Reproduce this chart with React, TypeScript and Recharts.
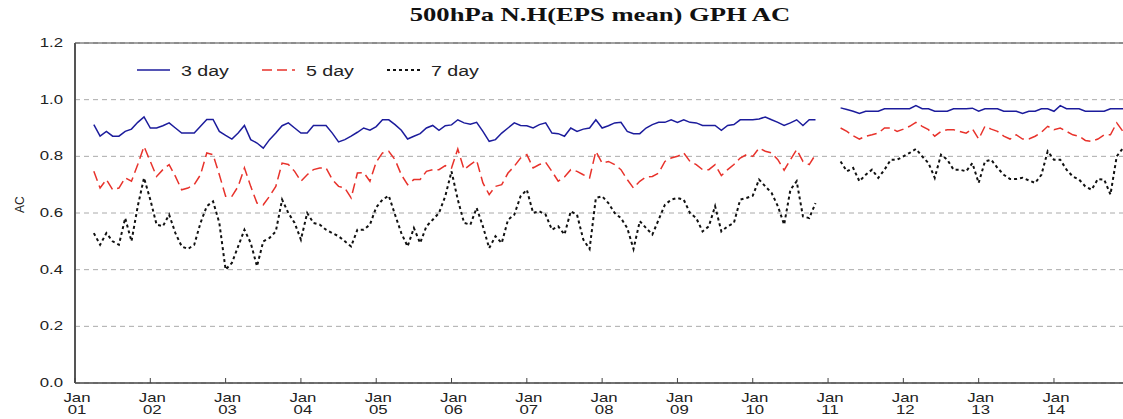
import { LineChart, Line, XAxis, YAxis, CartesianGrid, Legend, ReferenceLine } from 'recharts'

// monthly AC, Jan 2001 .. Dec 2014 (one row per year), null = no data
const day3 = [
  null, null, null, 0.912, 0.871, 0.888, 0.871, 0.871, 0.888, 0.896, 0.92, 0.939,
  0.9, 0.9, 0.908, 0.918, 0.9, 0.882, 0.882, 0.882, 0.906, 0.93, 0.93, 0.888,
  0.874, 0.861, 0.882, 0.909, 0.859, 0.847, 0.829, 0.859, 0.882, 0.908, 0.918, 0.9,
  0.882, 0.882, 0.909, 0.909, 0.909, 0.882, 0.851, 0.859, 0.871, 0.885, 0.9, 0.892,
  0.905, 0.929, 0.929, 0.912, 0.892, 0.861, 0.871, 0.88, 0.9, 0.909, 0.892, 0.908,
  0.911, 0.929, 0.918, 0.913, 0.92, 0.888, 0.853, 0.859, 0.882, 0.9, 0.918, 0.909,
  0.908, 0.9, 0.912, 0.918, 0.882, 0.88, 0.871, 0.9, 0.888, 0.896, 0.9, 0.929,
  0.9, 0.908, 0.918, 0.92, 0.888, 0.88, 0.88, 0.9, 0.912, 0.92, 0.92, 0.929,
  0.92, 0.929, 0.92, 0.918, 0.909, 0.909, 0.909, 0.892, 0.909, 0.912, 0.929, 0.929,
  0.929, 0.932, 0.939, 0.929, 0.92, 0.909, 0.918, 0.929, 0.909, 0.929, 0.929, null,
  null, null, 0.971, 0.965, 0.959, 0.951, 0.959, 0.959, 0.959, 0.968, 0.968, 0.968,
  0.968, 0.968, 0.979, 0.968, 0.968, 0.959, 0.959, 0.959, 0.968, 0.968, 0.968, 0.97,
  0.959, 0.968, 0.968, 0.968, 0.959, 0.959, 0.959, 0.951, 0.959, 0.959, 0.968, 0.968,
  0.959, 0.979, 0.968, 0.968, 0.968, 0.959, 0.959, 0.959, 0.959, 0.968, 0.968, 0.968,
]

const day5 = [
  null, null, null, 0.747, 0.688, 0.718, 0.682, 0.688, 0.724, 0.712, 0.771, 0.835,
  0.782, 0.729, 0.753, 0.771, 0.729, 0.682, 0.688, 0.7, 0.735, 0.812, 0.806, 0.735,
  0.659, 0.659, 0.694, 0.759, 0.694, 0.635, 0.629, 0.659, 0.694, 0.776, 0.771, 0.747,
  0.712, 0.735, 0.753, 0.759, 0.759, 0.718, 0.694, 0.688, 0.653, 0.741, 0.743, 0.712,
  0.78, 0.812, 0.818, 0.788, 0.735, 0.7, 0.718, 0.718, 0.747, 0.753, 0.753, 0.767,
  0.759, 0.826, 0.753, 0.771, 0.786, 0.706, 0.665, 0.694, 0.7, 0.741, 0.765, 0.794,
  0.806, 0.759, 0.771, 0.779, 0.747, 0.712, 0.727, 0.753, 0.747, 0.735, 0.724, 0.818,
  0.776, 0.782, 0.771, 0.753, 0.718, 0.688, 0.712, 0.727, 0.729, 0.741, 0.782, 0.794,
  0.8, 0.812, 0.782, 0.771, 0.753, 0.753, 0.771, 0.732, 0.753, 0.771, 0.794, 0.806,
  0.8, 0.829, 0.818, 0.812, 0.788, 0.751, 0.788, 0.824, 0.782, 0.771, 0.806, null,
  null, null, 0.9, 0.888, 0.873, 0.861, 0.871, 0.876, 0.882, 0.9, 0.9, 0.888,
  0.896, 0.906, 0.92, 0.906, 0.894, 0.871, 0.888, 0.894, 0.894, 0.888, 0.882, 0.897,
  0.861, 0.906, 0.896, 0.888, 0.871, 0.861, 0.876, 0.861, 0.861, 0.871, 0.885, 0.906,
  0.894, 0.9, 0.888, 0.876, 0.871, 0.856, 0.853, 0.861, 0.876, 0.876, 0.918, 0.888,
]

const day7 = [
  null, null, null, 0.529, 0.488, 0.529, 0.5, 0.488, 0.582, 0.5, 0.624, 0.724,
  0.647, 0.559, 0.553, 0.594, 0.529, 0.482, 0.473, 0.488, 0.565, 0.624, 0.641, 0.565,
  0.4, 0.424, 0.482, 0.541, 0.494, 0.412, 0.5, 0.512, 0.535, 0.647, 0.6, 0.565,
  0.506, 0.6, 0.565, 0.559, 0.541, 0.529, 0.518, 0.5, 0.482, 0.541, 0.541, 0.559,
  0.62, 0.647, 0.661, 0.594, 0.529, 0.482, 0.547, 0.494, 0.553, 0.576, 0.6, 0.659,
  0.747, 0.647, 0.565, 0.559, 0.618, 0.553, 0.476, 0.518, 0.494, 0.576, 0.594, 0.659,
  0.682, 0.6, 0.606, 0.594, 0.541, 0.553, 0.524, 0.606, 0.594, 0.506, 0.473, 0.653,
  0.659, 0.635, 0.6, 0.582, 0.547, 0.473, 0.571, 0.547, 0.524, 0.576, 0.629, 0.647,
  0.653, 0.647, 0.6, 0.582, 0.535, 0.553, 0.624, 0.535, 0.553, 0.565, 0.647, 0.653,
  0.661, 0.718, 0.694, 0.671, 0.624, 0.559, 0.682, 0.712, 0.588, 0.582, 0.635, null,
  null, null, 0.782, 0.747, 0.759, 0.712, 0.735, 0.753, 0.724, 0.753, 0.788, 0.788,
  0.8, 0.812, 0.826, 0.8, 0.776, 0.724, 0.806, 0.788, 0.753, 0.753, 0.747, 0.776,
  0.706, 0.782, 0.788, 0.759, 0.735, 0.72, 0.72, 0.724, 0.715, 0.706, 0.735, 0.818,
  0.788, 0.788, 0.753, 0.729, 0.718, 0.694, 0.682, 0.72, 0.718, 0.665, 0.8, 0.829,
]

const years = ['01', '02', '03', '04', '05', '06', '07', '08', '09', '10', '11', '12', '13', '14']
const yTicks = [0, 0.2, 0.4, 0.6, 0.8, 1.0, 1.2]
const seriesNames = ['3 day', '5 day', '7 day']

const data = day3.map((v, i) => ({ m: i, d3: v, d5: day5[i], d7: day7[i] }))
const xTicks = years.map((_, k) => k * 12)

const FONT = '"Liberation Sans", Arial, Helvetica, sans-serif'
const SX = 1.4 // the source image is stretched sideways

function Stretch({ x, y, anchor = 'start', size = 12, children }: any) {
  return (
    <text
      transform={`translate(${x},${y}) scale(${SX},1)`}
      textAnchor={anchor}
      fontFamily={FONT}
      fontSize={size}
      fill="#222"
    >
      {children}
    </text>
  )
}

function XTick({ x, y, payload }: any) {
  const k = Math.round(payload.value / 12)
  return (
    <g>
      <line x1={x} x2={x} y1={y - 5} y2={y} stroke="#444" strokeWidth={1} />
      <Stretch x={x + 2} y={y + 19} anchor="middle">Jan</Stretch>
      <Stretch x={x + 2} y={y + 31} anchor="middle">{years[k]}</Stretch>
    </g>
  )
}

function YTick({ x, y, payload }: any) {
  return <Stretch x={x - 12} y={y + 4} anchor="end">{Number(payload.value).toFixed(1)}</Stretch>
}

function LegendBox() {
  const items = [
    { name: seriesNames[0], color: '#1c1c9c', dash: undefined, w: 1.5 },
    { name: seriesNames[1], color: '#e8322b', dash: '10 5', w: 1.5 },
    { name: seriesNames[2], color: '#111', dash: '3 3', w: 2 },
  ]
  return (
    <svg width={380} height={26}>
      {items.map((it, k) => (
        <g key={it.name} transform={`translate(${7 + k * 125},0)`}>
          <line x1={0} x2={33} y1={12} y2={12} stroke={it.color} strokeWidth={it.w} strokeDasharray={it.dash} />
          <Stretch x={44} y={18} size={14}>{it.name}</Stretch>
        </g>
      ))}
    </svg>
  )
}

export default function App() {
  return (
    <div style={{ position: 'absolute', left: 0, top: 0, width: 1123, height: 419, background: '#fff' }}>
      <div
        style={{
          position: 'absolute',
          left: 0,
          top: 4,
          width: 1200,
          textAlign: 'center',
          fontFamily: '"Liberation Serif", "Times New Roman", serif',
          fontWeight: 'bold',
          fontSize: 19,
          color: '#111',
          transform: `scaleX(${SX})`,
          transformOrigin: '600px 0',
          whiteSpace: 'nowrap',
        }}
      >
        <span>500hPa N.H(EPS mean) GPH AC</span>
      </div>
      <LineChart width={1123} height={419} data={data} margin={{ top: 43, right: 0, bottom: 0, left: 0 }}>
        <CartesianGrid vertical={false} stroke="#aaa" strokeDasharray="5 4" />
        <ReferenceLine y={1.2} stroke="#444" strokeWidth={1} />
        <XAxis
          dataKey="m"
          type="number"
          domain={[0, 167]}
          ticks={xTicks}
          interval={0}
          height={36}
          tickSize={0}
          tickMargin={0}
          tick={<XTick />}
          axisLine={{ stroke: '#444', strokeWidth: 1.5 }}
        />
        <YAxis
          domain={[0, 1.2]}
          ticks={yTicks}
          width={75}
          tickSize={0}
          tickMargin={0}
          tick={<YTick />}
          axisLine={{ stroke: '#555', strokeWidth: 2 }}
          label={{ value: 'AC', angle: -90, position: 'insideLeft', offset: 20, style: { fontFamily: FONT, fontSize: 12, fill: '#222' } }}
        />
        <Legend
          layout="horizontal"
          verticalAlign="middle"
          align="center"
          content={() => <LegendBox />}
          wrapperStyle={{ top: 58, left: 130, width: 380, height: 26 }}
        />
        <Line dataKey="d3" name={seriesNames[0]} stroke="#1c1c9c" strokeWidth={1.5} dot={false} connectNulls={false} isAnimationActive={false} />
        <Line dataKey="d5" name={seriesNames[1]} stroke="#e8322b" strokeWidth={1.5} strokeDasharray="10 5" dot={false} connectNulls={false} isAnimationActive={false} />
        <Line dataKey="d7" name={seriesNames[2]} stroke="#111" strokeWidth={2} strokeDasharray="3 3" dot={false} connectNulls={false} isAnimationActive={false} />
      </LineChart>
    </div>
  )
}
